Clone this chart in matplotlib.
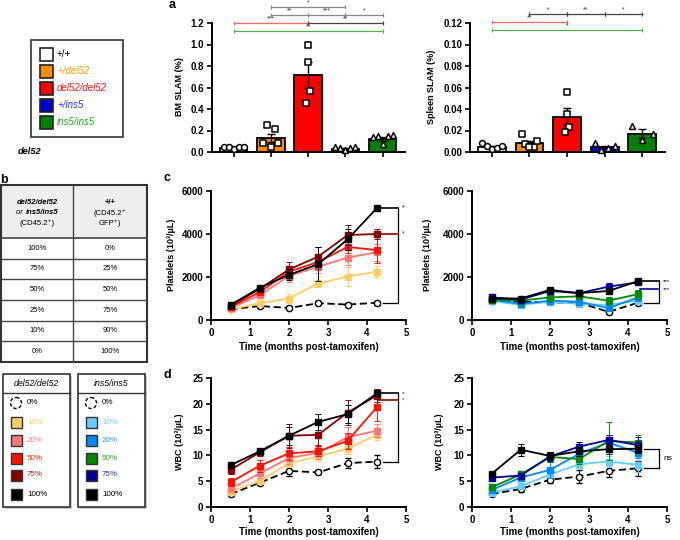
import numpy as np
import matplotlib
matplotlib.use('Agg')
import matplotlib.pyplot as plt
from matplotlib.patches import Rectangle, Circle

plt.rcParams['font.family'] = ['Liberation Sans', 'DejaVu Sans']

W, H = 680, 540

# ---------------- data ----------------
genotypes = ['+/+', '+/del52', 'del52/del52', '+/ins5', 'ins5/ins5']
bm_mean = [0.04, 0.13, 0.72, 0.03, 0.12]
bm_sem = [0.005, 0.04, 0.12, 0.005, 0.02]
bm_pts = [[0.05, 0.05, 0.03, 0.05, 0.05],
          [0.25, 0.21, 0.08, 0.05, 0.08],
          [1.00, 0.84, 0.57, 0.46],
          [0.05, 0.04, 0.02, 0.04, 0.05],
          [0.14, 0.15, 0.07, 0.15, 0.16]]
sp_mean = [0.005, 0.008, 0.033, 0.005, 0.017]
sp_sem = [0.001, 0.002, 0.008, 0.001, 0.004]
sp_pts = [[0.008, 0.006, 0.0025, 0.004, 0.006],
          [0.007, 0.005, 0.017, 0.005, 0.010],
          [0.056, 0.035, 0.023, 0.019],
          [0.008, 0.002, 0.004, 0.006],
          [0.024, 0.011, 0.017]]
# significance: (group a, group b, label)
bm_sig_rows = [[(1, 3, '*')],
               [(1, 2, '**'), (2, 3, '***'), (3, 4, '*')],
               [(0, 2, '***'), (2, 4, '**')],
               [(0, 4, '**')]]
sp_sig_rows = [[(1, 2, '*'), (2, 3, '**'), (3, 4, '*')],
               [(0, 2, '**')],
               [(0, 4, '*')]]

months = [0.5, 1.25, 2, 2.75, 3.5, 4.25]
levels = ['0%', '10%', '20%', '50%', '75%', '100%']

plt_del52 = [[500, 650, 560, 780, 720, 800],
             [500, 780, 1000, 1700, 2020, 2250],
             [550, 1150, 2050, 2480, 2900, 3150],
             [600, 1300, 2250, 2700, 3400, 3250],
             [650, 1450, 2350, 2950, 3950, 4000],
             [700, 1500, 2100, 2600, 3750, 5200]]
plt_del52_err = [[60, 80, 70, 90, 80, 100],
                 [80, 100, 200, 150, 450, 250],
                 [80, 120, 300, 300, 350, 400],
                 [80, 150, 250, 350, 300, 600],
                 [100, 150, 350, 450, 450, 250],
                 [100, 100, 250, 800, 500, 100]]
plt_ins5 = [[900, 850, 820, 800, 380, 800],
            [880, 700, 850, 750, 700, 900],
            [950, 750, 900, 850, 550, 1050],
            [950, 900, 1050, 1100, 900, 1200],
            [1050, 950, 1350, 1250, 1550, 1750],
            [1000, 1000, 1400, 1250, 1350, 1800]]
plt_ins5_err = [[80, 80, 80, 80, 100, 100],
                [80, 80, 100, 80, 100, 120],
                [80, 80, 100, 100, 120, 150],
                [80, 100, 150, 120, 150, 200],
                [100, 100, 150, 150, 150, 120],
                [100, 120, 150, 150, 150, 100]]
wbc_del52 = [[2.5, 4.7, 7.0, 6.7, 8.5, 8.8],
             [3.0, 5.0, 8.5, 9.8, 11.3, 14.0],
             [3.5, 6.5, 9.5, 10.5, 13.5, 14.8],
             [4.8, 8.0, 10.4, 10.8, 12.8, 19.3],
             [7.2, 10.6, 13.8, 14.0, 18.3, 21.6],
             [8.1, 10.8, 13.8, 16.5, 18.0, 22.0]]
wbc_del52_err = [[0.3, 0.4, 0.9, 0.4, 0.9, 1.3],
                 [0.4, 0.5, 0.8, 0.8, 1.0, 1.0],
                 [0.5, 0.9, 1.2, 1.2, 2.0, 1.3],
                 [0.8, 1.2, 1.2, 1.0, 1.5, 2.7],
                 [0.8, 0.7, 2.3, 2.0, 2.5, 1.3],
                 [0.6, 0.5, 1.8, 1.5, 1.8, 0.5]]
wbc_ins5 = [[2.5, 3.5, 5.3, 5.9, 7.0, 7.5],
            [2.8, 4.0, 6.3, 8.3, 8.8, 8.2],
            [3.3, 5.7, 7.2, 10.3, 12.5, 10.5],
            [3.8, 6.3, 9.7, 9.3, 12.8, 12.5],
            [5.7, 6.1, 9.8, 11.7, 13.0, 12.0],
            [6.4, 11.1, 9.9, 10.8, 11.2, 11.3]]
wbc_ins5_err = [[0.3, 0.5, 0.7, 1.3, 1.2, 1.5],
                [0.3, 0.4, 0.6, 0.7, 1.0, 1.5],
                [0.4, 0.5, 1.5, 1.0, 1.5, 1.0],
                [0.5, 0.5, 1.0, 1.0, 3.7, 1.5],
                [0.4, 0.5, 0.8, 0.9, 1.0, 1.5],
                [0.6, 1.2, 0.7, 0.9, 1.0, 0.8]]

table_mut = ['100%', '75%', '50%', '25%', '10%', '0%']
table_wt = ['0%', '25%', '50%', '75%', '90%', '100%']

# ---------------- styles ----------------
bar_colors = ['white', '#FF8C00', '#FF0000', '#0000CD', '#008000']
geno_text_colors = ['black', '#FF9900', '#FF1111', '#2233FF', '#22AA22']
bar_markers = ['o', 's', 's', '^', '^']
del_colors = ['white', '#FFCC66', '#FF7777', '#FF1100', '#880000', 'black']
ins_colors = ['white', '#66CCFF', '#0088FF', '#008800', '#000099', 'black']
del_text = ['black', '#FFCC55', '#FF7F7F', '#FF2200', '#AA2222', 'black']
ins_text = ['black', '#66CCFF', '#2299FF', '#22AA22', '#3333AA', 'black']
bm_sig_cols = [['#888888'], ['#888888', '#888888', '#888888'], ['#FF6666', '#444444'], ['#55AA55']]
sp_sig_cols = [['#444444', '#444444', '#444444'], ['#FF6666'], ['#55AA55']]

fig = plt.figure(figsize=(6.8, 5.4), dpi=100)


def ax_px(l, t, r, b):
    a = fig.add_axes([l / W, 1 - b / H, (r - l) / W, (b - t) / H])
    a.set_facecolor('none')
    return a


def style(ax):
    for s in ['top', 'right']:
        ax.spines[s].set_visible(False)
    for s in ['left', 'bottom']:
        ax.spines[s].set_linewidth(1.4)
    ax.tick_params(direction='out', length=3.5, width=1.2, labelsize=7, pad=2)


ov = fig.add_axes([0, 0, 1, 1])
ov.set_xlim(0, W)
ov.set_ylim(H, 0)
ov.axis('off')


def jitter(i, n):
    if i == 1 and n == 5:
        return np.array([-0.11, 0.12, -0.2, 0.0, 0.2])
    if i == 2:
        return np.array([0.0, 0.0, 0.06, -0.06])[:n]
    return np.linspace(-0.27, 0.27, n) if n > 1 else np.zeros(n)


def bar_panel(ax, means, sems, pts, ymax, yticks, ylabels, sig_rows, sig_cols, row_y):
    x = np.arange(len(means))
    ax.bar(x, means, width=0.74, color=bar_colors, edgecolor='black', linewidth=1.3, zorder=2)
    ax.errorbar(x, means, yerr=sems, fmt='none', ecolor='black', elinewidth=1,
                capsize=3, capthick=1, zorder=3)
    for i, p in enumerate(pts):
        ax.scatter(x[i] + jitter(i, len(p)), p, marker=bar_markers[i], s=18,
                   facecolor='white', edgecolor='black', linewidth=1.1, zorder=4, clip_on=False)
    ax.set_xlim(-0.58, 4.6)
    ax.set_ylim(0, ymax)
    ax.set_yticks(yticks, labels=ylabels, fontweight='bold')
    ax.set_xticks(x, labels=[''] * len(x))
    style(ax)
    for row, cols, yv in zip(sig_rows, sig_cols, row_y):
        for (a, b, lab), col in zip(row, cols):
            ax.plot([a, b], [yv, yv], color=col, lw=0.9, clip_on=False,
                    marker='|', markersize=3, markeredgewidth=0.8)
            ax.text((a + b) / 2, yv + ymax * 0.003, lab, ha='center', va='bottom',
                    fontsize=5, color='#333333', clip_on=False)


ax_bm = ax_px(212, 23, 405, 152)
bar_panel(ax_bm, bm_mean, bm_sem, bm_pts, 1.2, np.arange(0, 1.21, 0.2),
          ['%.1f' % v for v in np.arange(0, 1.21, 0.2)], bm_sig_rows, bm_sig_cols,
          [1.35, 1.275, 1.2, 1.126])
ax_sp = ax_px(470, 23, 665, 152)
bar_panel(ax_sp, sp_mean, sp_sem, sp_pts, 0.12, np.arange(0, 0.121, 0.02),
          ['%.2f' % v for v in np.arange(0, 0.121, 0.02)], sp_sig_rows, sp_sig_cols,
          [0.1285, 0.1212, 0.1135])


def ts_panel(ax, data, errs, colors, ymax, yticks):
    for i in range(len(data)):
        if i == 0:
            ax.errorbar(months, data[i], yerr=errs[i], color='black', ls=(0, (4, 2)), lw=1.3,
                        marker='o', ms=4.5, mfc='white', mec='black', mew=1.0,
                        capsize=2, elinewidth=0.7, capthick=0.7, zorder=3)
        else:
            ax.errorbar(months, data[i], yerr=errs[i], color=colors[i], lw=1.3,
                        marker='s', ms=4.5, mfc=colors[i], mec=colors[i],
                        capsize=2, elinewidth=0.7, capthick=0.7, zorder=3 + i)
    ax.set_xlim(0, 5)
    ax.set_ylim(0, ymax)
    ax.set_xticks(range(6), labels=[str(v) for v in range(6)], fontweight='bold')
    ax.set_yticks(yticks, labels=[str(int(v)) for v in yticks], fontweight='bold')
    style(ax)


def bracket(ax, top, bottom, marks, xb=4.8, fs=5):
    ax.plot([xb, xb], [bottom, top], color='black', lw=0.9, clip_on=False)
    ax.plot([4.4, xb], [bottom, bottom], color='black', lw=0.9, clip_on=False)
    for (yv, col, lab) in marks:
        ax.plot([4.3, xb], [yv, yv], color=col, lw=1.2, clip_on=False)
        ax.text(xb + 0.1, yv, lab, color=col, fontsize=fs, va='center', ha='left', clip_on=False)


ax_cl = ax_px(211, 191, 406, 320)
ts_panel(ax_cl, plt_del52, plt_del52_err, del_colors, 6000, [0, 2000, 4000, 6000])
bracket(ax_cl, plt_del52[5][-1], plt_del52[0][-1],
        [(plt_del52[5][-1], 'black', '*'), (plt_del52[4][-1], '#990000', '*')])

ax_cr = ax_px(472, 191, 667, 320)
ts_panel(ax_cr, plt_ins5, plt_ins5_err, ins_colors, 6000, [0, 2000, 4000, 6000])
bracket(ax_cr, plt_ins5[5][-1], plt_ins5[0][-1],
        [(plt_ins5[5][-1], 'black', '***'), (plt_ins5[4][-1] - 330, '#000099', '***')], fs=4.5)

ax_dl = ax_px(211, 378, 406, 507)
ts_panel(ax_dl, wbc_del52, wbc_del52_err, del_colors, 25, [0, 5, 10, 15, 20, 25])
bracket(ax_dl, wbc_del52[5][-1], wbc_del52[0][-1],
        [(wbc_del52[5][-1], 'black', '*'), (wbc_del52[4][-1] - 0.8, '#990000', '*')], fs=4.5)

ax_dr = ax_px(472, 378, 667, 507)
ts_panel(ax_dr, wbc_ins5, wbc_ins5_err, ins_colors, 25, [0, 5, 10, 15, 20, 25])
ax_dr.plot([4.8, 4.8], [wbc_ins5[0][-1], wbc_ins5[5][-1]], color='black', lw=0.9, clip_on=False)
ax_dr.plot([4.4, 4.8], [wbc_ins5[0][-1], wbc_ins5[0][-1]], color='black', lw=0.9, clip_on=False)
ax_dr.plot([4.4, 4.8], [wbc_ins5[5][-1], wbc_ins5[5][-1]], color='black', lw=0.9, clip_on=False)
ax_dr.text(4.9, (wbc_ins5[0][-1] + wbc_ins5[5][-1]) / 2, 'ns', fontsize=6, va='center',
           ha='left', clip_on=False)

# ---------------- axis labels ----------------
lab_kw = dict(fontweight='bold', fontsize=6.5, ha='center', va='center')
ov.text(180, 87, 'BM SLAM (%)', rotation=90, **lab_kw)
ov.text(432, 87, 'Spleen SLAM (%)', rotation=90, **lab_kw)
ov.text(172, 255, 'Platelets (10³/µL)', rotation=90, **lab_kw)
ov.text(428, 255, 'Platelets (10³/µL)', rotation=90, **lab_kw)
ov.text(180, 442, 'WBC (10³/µL)', rotation=90, **lab_kw)
ov.text(440, 442, 'WBC (10³/µL)', rotation=90, **lab_kw)
for xc in [308.5, 569.5]:
    ov.text(xc, 347, 'Time (months post-tamoxifen)', fontweight='bold', fontsize=7,
            ha='center', va='center')
    ov.text(xc, 532, 'Time (months post-tamoxifen)', fontweight='bold', fontsize=7,
            ha='center', va='center')

# panel letters
for (lx, ly, s) in [(172, 5, 'a'), (4, 180, 'b'), (167, 178, 'c'), (167, 375, 'd')]:
    ov.text(lx, ly, s, fontweight='bold', fontsize=9, ha='center', va='center')

# ---------------- genotype legend ----------------
ov.add_patch(Rectangle((31, 40), 92, 97, fill=False, edgecolor='#333333', lw=1.2))
for i, g in enumerate(genotypes):
    y = 54 + i * 17
    ov.add_patch(Rectangle((40, y - 6.5), 13, 13, facecolor=bar_colors[i],
                           edgecolor='#222222', lw=1.2))
    ov.text(57, y, g, color=geno_text_colors[i], fontsize=7,
            style='normal' if i == 0 else 'italic', va='center', ha='left')
ov.text(18, 151, 'del52', fontweight='bold', style='italic', fontsize=6.7, va='center')

# ---------------- table b ----------------
tx0, tx1, tx2 = 1, 73, 147
ty0, ty1, ty2 = 185, 238, 362
ov.add_patch(Rectangle((tx0, ty0), tx2 - tx0, ty1 - ty0, facecolor='#EEEEEE', edgecolor='none'))
rh = (ty2 - ty1) / len(table_mut)
for k in range(1, len(table_mut)):
    ov.plot([tx0, tx2], [ty1 + k * rh] * 2, color='#444444', lw=1.0)
ov.plot([tx0, tx2], [ty1, ty1], color='#444444', lw=1.2)
ov.plot([tx1, tx1], [ty0, ty2], color='#444444', lw=1.0)
ov.add_patch(Rectangle((tx0, ty0), tx2 - tx0, ty2 - ty0, fill=False, edgecolor='#333333', lw=1.5))
c0, c1 = (tx0 + tx1) / 2, (tx1 + tx2) / 2
tk = dict(fontsize=5.5, ha='center', va='center')
ov.text(c0, 203, 'del52/del52', fontweight='bold', style='italic', **tk)
ov.text(25, 213, 'or ', style='italic', fontsize=5.5, ha='right', va='center')
ov.text(26, 213, 'ins5/ins5', fontweight='bold', style='italic', fontsize=5.5, ha='left', va='center')
ov.text(c0, 223, '(CD45.2⁺)', **tk)
ov.text(c1, 203, '+/+', fontweight='bold', **tk)
ov.text(c1, 213, '(CD45.2⁺', **tk)
ov.text(c1, 223, 'GFP⁺)', **tk)
for k in range(len(table_mut)):
    yc = ty1 + (k + 0.5) * rh
    ov.text(c0, yc, table_mut[k], **tk)
    ov.text(c1, yc, table_wt[k], **tk)

# ---------------- level legends ----------------
item_y = [403, 422, 440, 458, 475, 494]
for (bx, title, cols, tcols) in [(3, 'del52/del52', del_colors, del_text),
                                 (78, 'ins5/ins5', ins_colors, ins_text)]:
    ov.add_patch(Rectangle((bx + 1.5, 375.5), 67, 133, facecolor='#CCCCCC', edgecolor='none'))
    ov.add_patch(Rectangle((bx, 374), 67, 133, facecolor='white', edgecolor='#333333', lw=1.2))
    ov.plot([bx, bx + 67], [393, 393], color='#333333', lw=1.0)
    ov.text(bx + 33.5, 384, title, style='italic', fontsize=6.3, ha='center', va='center')
    for k, lv in enumerate(levels):
        y = item_y[k]
        mx = bx + 13
        if k == 0:
            ov.add_patch(Circle((mx, y), 5.5, facecolor='white', edgecolor='black',
                                lw=1.0, ls=(0, (2.5, 1.5))))
        else:
            ov.add_patch(Rectangle((mx - 5.5, y - 5.5), 11, 11, facecolor=cols[k],
                                   edgecolor='#333333', lw=1.0))
        ov.text(bx + 24, y, lv, color=tcols[k], fontsize=5.8, ha='left', va='center')

fig.savefig('out.png', dpi=100)
